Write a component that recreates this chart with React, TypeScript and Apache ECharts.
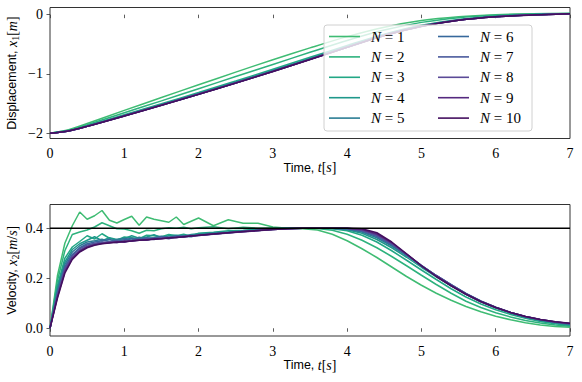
import React, { useEffect, useRef } from 'react';
import * as echarts from 'echarts';

// time grid for velocity (s)
const T = [0, 0.1, 0.2, 0.3, 0.4, 0.5, 0.6, 0.7, 0.8, 0.9, 1.0, 1.1, 1.2, 1.3, 1.4, 1.5, 1.6, 1.7, 1.8, 1.9, 2.0,
  2.2, 2.4, 2.6, 2.8, 3.0, 3.2, 3.4, 3.6, 3.8, 4.0, 4.2, 4.4, 4.6, 4.8, 5.0, 5.2, 5.4, 5.6, 5.8, 6.0, 6.2, 6.4, 6.6, 6.8, 7.0];
// time grid for displacement (s)
const TD = [0, 0.25, 0.5, 1, 1.5, 2, 2.5, 3, 3.5, 4, 4.5, 5, 5.5, 6, 6.5, 7];

const NAMES = ['N = 1', 'N = 2', 'N = 3', 'N = 4', 'N = 5', 'N = 6', 'N = 7', 'N = 8', 'N = 9', 'N = 10'];
const COLORS = ['#3fbc73', '#2db27d', '#22a785', '#1f988b', '#2b7d94', '#37689c', '#4a5a9c', '#5b4a97', '#55297f', '#440f5f'];

// velocity x2 [m/s]
const V1 = [0, .21, .34, .41, .465, .436, .45, .471, .432, .421, .435, .448, .412, .445, .436, .43, .424, .445, .415, .428, .441,
  .41, .434, .42, .42, .405, .4, .398, .393, .376, .35, .318, .283, .245, .207, .172, .14, .112, .087, .066, .048, .034, .022, .013, .007, .004];
const V2 = [0, .19, .31, .375, .385, .393, .405, .422, .41, .398, .397, .39, .38, .392, .39, .398, .402, .4, .404, .398, .402,
  .406, .398, .404, .4, .401, .4, .4, .399, .392, .376, .352, .322, .287, .25, .212, .175, .14, .108, .083, .062, .045, .031, .021, .013, .008];
const V3 = [0, .17, .28, .325, .347, .37, .357, .378, .36, .352, .365, .362, .358, .372, .37, .366, .375, .37, .376, .368, .38,
  .384, .39, .392, .397, .399, .4, .4, .4, .398, .39, .372, .345, .31, .272, .233, .195, .158, .125, .097, .074, .055, .04, .027, .018, .011];
const V4 = [0, .16, .265, .315, .338, .352, .366, .35, .362, .355, .358, .37, .36, .365, .374, .362, .37, .372, .366, .375, .378,
  .382, .385, .39, .394, .398, .4, .4, .4, .399, .394, .38, .355, .322, .284, .244, .206, .17, .136, .106, .081, .06, .044, .031, .021, .014];
const V5 = [0, .15, .255, .305, .33, .345, .35, .356, .346, .355, .36, .352, .364, .358, .362, .368, .362, .37, .368, .366, .374,
  .38, .384, .389, .393, .397, .4, .4, .4, .4, .396, .385, .362, .329, .29, .249, .21, .173, .138, .108, .083, .062, .045, .033, .023, .016];
const V6 = [0, .14, .245, .295, .322, .338, .345, .35, .355, .348, .354, .36, .355, .362, .36, .366, .364, .368, .37, .372, .372,
  .378, .383, .388, .392, .396, .399, .4, .4, .4, .398, .388, .367, .334, .293, .251, .211, .174, .139, .109, .084, .063, .046, .034, .024, .017];
const V7 = [0, .135, .24, .29, .318, .333, .34, .345, .343, .35, .345, .352, .356, .352, .36, .362, .358, .366, .365, .37, .371,
  .377, .382, .387, .391, .395, .398, .4, .4, .4, .399, .391, .371, .337, .295, .252, .211, .174, .138, .108, .084, .063, .047, .034, .025, .018];
const V8 = [0, .13, .233, .284, .312, .328, .337, .341, .346, .342, .35, .348, .352, .357, .355, .36, .363, .362, .367, .368, .372,
  .376, .381, .386, .39, .395, .398, .4, .4, .4, .4, .393, .374, .34, .296, .251, .21, .172, .137, .107, .083, .063, .047, .035, .025, .019];
const V9 = [0, .125, .226, .28, .308, .325, .334, .339, .342, .346, .344, .35, .353, .352, .358, .358, .362, .364, .365, .37, .371,
  .377, .382, .386, .391, .395, .398, .4, .4, .4, .4, .395, .377, .342, .296, .249, .208, .17, .136, .106, .083, .063, .047, .035, .026, .019];
const V10 = [0, .12, .22, .275, .305, .322, .332, .338, .341, .344, .347, .349, .352, .354, .356, .358, .361, .363, .366, .369, .372,
  .377, .382, .387, .391, .395, .398, .4, .4, .4, .4, .398, .382, .345, .298, .25, .207, .17, .136, .107, .083, .063, .047, .035, .026, .02];

// displacement x1 [m]
const X1 = [-2, -1.942, -1.836, -1.616, -1.398, -1.183, -0.97, -0.761, -0.561, -0.371, -0.212, -0.1, -0.035, 0.0, 0.015, 0.02];
const X2 = [-2, -1.952, -1.858, -1.655, -1.455, -1.25, -1.045, -0.84, -0.635, -0.435, -0.26, -0.13, -0.05, -0.01, 0.01, 0.02];
const X3 = [-2, -1.96, -1.875, -1.69, -1.505, -1.315, -1.12, -0.92, -0.72, -0.52, -0.33, -0.18, -0.08, -0.025, 0.005, 0.018];
const X4 = [-2, -1.961, -1.88, -1.7, -1.517, -1.33, -1.137, -0.94, -0.738, -0.535, -0.34, -0.188, -0.088, -0.03, 0.0, 0.017];
const X5 = [-2, -1.962, -1.882, -1.704, -1.522, -1.336, -1.144, -0.948, -0.746, -0.542, -0.345, -0.192, -0.09, -0.032, -0.002, 0.016];
const X6 = [-2, -1.962, -1.883, -1.706, -1.525, -1.34, -1.149, -0.953, -0.751, -0.547, -0.348, -0.195, -0.092, -0.033, -0.003, 0.016];
const X7 = [-2, -1.962, -1.884, -1.708, -1.527, -1.342, -1.152, -0.956, -0.754, -0.549, -0.35, -0.196, -0.093, -0.034, -0.004, 0.015];
const X8 = [-2, -1.962, -1.884, -1.709, -1.528, -1.343, -1.153, -0.958, -0.755, -0.55, -0.351, -0.197, -0.094, -0.034, -0.004, 0.015];
const X9 = [-2, -1.962, -1.885, -1.709, -1.529, -1.344, -1.154, -0.959, -0.756, -0.551, -0.352, -0.197, -0.094, -0.035, -0.005, 0.015];
const X10 = [-2, -1.962, -1.885, -1.71, -1.53, -1.345, -1.155, -0.96, -0.757, -0.552, -0.352, -0.198, -0.095, -0.035, -0.005, 0.015];

const REF_V = 0.4;
const Y1_TICKS = [-2, -1, 0];
const Y2_TICKS = [0, 0.2, 0.4];

const VEL = [V1, V2, V3, V4, V5, V6, V7, V8, V9, V10];
const DISP = [X1, X2, X3, X4, X5, X6, X7, X8, X9, X10];

const SERIF = "'Liberation Serif', 'DejaVu Serif', serif";
const SANS = "'Liberation Sans', sans-serif";
const FRAME = '#333';

const nameRich = {
  s: { fontFamily: SANS, fontSize: 12.5, color: '#000', lineHeight: 16 },
  m: { fontFamily: SERIF, fontStyle: 'italic', fontSize: 14, color: '#000', lineHeight: 16 },
  r: { fontFamily: SERIF, fontSize: 14, color: '#000', lineHeight: 16 },
  sub: { fontFamily: SERIF, fontSize: 10, color: '#000', lineHeight: 16, verticalAlign: 'bottom', padding: [4, 0, 0, 0] },
};

const tickRich = {
  t: { fontFamily: SERIF, fontSize: 14, color: '#000' },
};

const fmtMinus = (v: number) => '{t|' + (v < 0 ? '\u2212' + Math.abs(v) : String(v)) + '}';

export default function App() {
  const ref = useRef<HTMLDivElement>(null);
  useEffect(() => {
    const chart = echarts.init(ref.current!, null, { renderer: 'svg' });

    const xAxisBase = (gridIndex: number) => ({
      type: 'value',
      gridIndex,
      min: 0,
      max: 7,
      interval: 1,
      axisLine: { show: false },
      axisTick: { show: true, length: 3.5, lineStyle: { color: FRAME, width: 0.8 } },
      axisLabel: {
        fontFamily: SERIF, fontSize: 14, color: '#000', margin: 8,
        formatter: (v: number) => '{t|' + v + '}', rich: tickRich,
      },
      splitLine: { show: false },
      name: '{s|Time, }{m|t}{r|[}{m|s}{r|]}',
      nameLocation: 'middle',
      nameGap: 21,
      nameMoveOverlap: false,
      nameTextStyle: { rich: nameRich },
    });

    const legendBase = (left: number, data: string[]) => ({
      orient: 'vertical',
      left,
      top: 29,
      padding: 0,
      itemGap: 5.4,
      itemWidth: 31,
      itemHeight: 1.6,
      icon: 'rect',
      data,
      formatter: (name: string) => '{i|N}{r| = ' + name.split('=')[1].trim() + '}',
      textStyle: {
        fontFamily: SERIF,
        fontSize: 15,
        lineHeight: 15,
        color: '#000',
        padding: [0, 0, 0, 6],
        rich: {
          i: { fontFamily: SERIF, fontStyle: 'italic', fontSize: 15, color: '#000', lineHeight: 15 },
          r: { fontFamily: SERIF, fontSize: 15, color: '#000', lineHeight: 15 },
        },
      },
      selectedMode: false,
    });

    const series: any[] = [];
    NAMES.forEach((name, i) => {
      series.push({
        type: 'line',
        name,
        xAxisIndex: 0,
        yAxisIndex: 0,
        data: TD.map((t, j) => [t, DISP[i][j]]),
        symbol: 'none',
        showSymbol: false,
        smooth: 0.3,
        lineStyle: { width: 1.5, color: COLORS[i] },
        itemStyle: { color: COLORS[i] },
        z: 2,
      });
    });
    NAMES.forEach((name, i) => {
      series.push({
        type: 'line',
        name,
        xAxisIndex: 1,
        yAxisIndex: 1,
        data: T.map((t, j) => [t, VEL[i][j]]),
        symbol: 'none',
        showSymbol: false,
        lineStyle: { width: 1.5, color: COLORS[i] },
        itemStyle: { color: COLORS[i] },
        z: 2,
      });
    });
    series.push({
      type: 'line',
      name: 'reference',
      xAxisIndex: 1,
      yAxisIndex: 1,
      data: [[0, REF_V], [7, REF_V]],
      symbol: 'none',
      lineStyle: { width: 1.5, color: '#000' },
      itemStyle: { color: '#000' },
      silent: true,
      z: 3,
    });

    const option: any = {
      animation: false,
      backgroundColor: '#fff',
      textStyle: { fontFamily: SERIF },
      grid: [
        { left: 50, right: 12, top: 7.5, height: 131, show: true, borderColor: FRAME, borderWidth: 1, backgroundColor: 'transparent', containLabel: false, outerBoundsMode: 'none' },
        { left: 50, right: 12, top: 204.5, height: 131.5, show: true, borderColor: FRAME, borderWidth: 1, backgroundColor: 'transparent', containLabel: false, outerBoundsMode: 'none' },
      ],
      xAxis: [xAxisBase(0), xAxisBase(1)],
      yAxis: [
        {
          type: 'value',
          gridIndex: 0,
          min: -2.09,
          max: 0.121,
          axisLine: { show: false },
          axisTick: { show: true, length: 3.5, lineStyle: { color: FRAME, width: 0.8 }, customValues: Y1_TICKS },
          axisLabel: { fontFamily: SERIF, fontSize: 14, color: '#000', margin: 7, customValues: Y1_TICKS, formatter: fmtMinus, rich: tickRich },
          splitLine: { show: false },
          name: '{s|Displacement, }{m|x}{sub|1}{r|[}{m|m}{r|]}',
          nameLocation: 'middle',
          nameRotate: 90,
          nameGap: 30,
          nameMoveOverlap: false,
          nameTextStyle: { rich: nameRich },
        },
        {
          type: 'value',
          gridIndex: 1,
          min: -0.031,
          max: 0.495,
          axisLine: { show: false },
          axisTick: { show: true, length: 3.5, lineStyle: { color: FRAME, width: 0.8 }, customValues: Y2_TICKS },
          axisLabel: {
            fontFamily: SERIF, fontSize: 14, color: '#000', margin: 7, customValues: Y2_TICKS,
            formatter: (v: number) => '{t|' + v.toFixed(1) + '}', rich: tickRich,
          },
          splitLine: { show: false },
          name: '{s|Velocity, }{m|x}{sub|2}{r|[}{m|m}{r|/}{m|s}{r|]}',
          nameLocation: 'middle',
          nameRotate: 90,
          nameGap: 30,
          nameMoveOverlap: false,
          nameTextStyle: { rich: nameRich },
        },
      ],
      legend: [legendBase(329, NAMES.slice(0, 5)), legendBase(438, NAMES.slice(5))],
      graphic: {
        elements: [
          {
            type: 'rect',
            z: 3,
            shape: { x: 324, y: 25, width: 208, height: 106, r: 3 },
            style: { fill: 'rgba(255,255,255,0.8)', stroke: '#d0d0d0', lineWidth: 1 },
            silent: true,
          },
        ],
      },
      series,
    };

    chart.setOption(option);
    return () => chart.dispose();
  }, []);
  return <div ref={ref} style={{ position: 'fixed', left: 0, top: 0, width: 582, height: 382 }} />;
}
